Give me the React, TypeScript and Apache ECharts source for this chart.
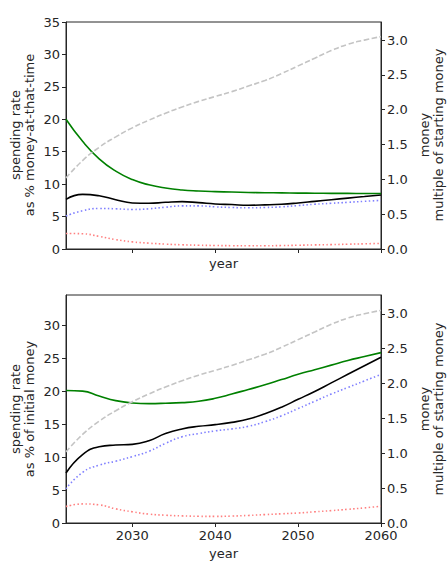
import React, { useEffect, useRef } from 'react';
import * as echarts from 'echarts';

const years = [2022, 2024, 2026, 2028, 2030, 2032, 2034, 2036, 2038, 2040, 2042, 2044, 2046, 2048, 2050, 2052, 2054, 2056, 2058, 2060];

// top panel: spending rate as % of money-at-that-time
const topGreen = [20.0, 16.6, 13.9, 12.0, 10.7, 9.9, 9.4, 9.1, 8.95, 8.85, 8.78, 8.72, 8.68, 8.65, 8.62, 8.6, 8.58, 8.57, 8.56, 8.55];
const topBlack = [7.66, 8.42, 8.2, 7.6, 7.1, 7.05, 7.2, 7.3, 7.15, 6.95, 6.85, 6.75, 6.8, 6.9, 7.1, 7.35, 7.6, 7.85, 8.1, 8.33];
const topBlue = [5.1, 5.9, 6.25, 6.2, 6.1, 6.2, 6.45, 6.65, 6.65, 6.5, 6.4, 6.35, 6.4, 6.5, 6.7, 6.9, 7.05, 7.2, 7.35, 7.5];
const topRed = [2.4, 2.35, 1.95, 1.45, 1.1, 0.9, 0.75, 0.65, 0.58, 0.54, 0.51, 0.5, 0.5, 0.53, 0.58, 0.63, 0.68, 0.74, 0.8, 0.86];

// bottom panel: spending rate as % of initial money
const botGreen = [20.15, 20.05, 19.3, 18.6, 18.25, 18.15, 18.2, 18.3, 18.5, 18.95, 19.6, 20.3, 21.0, 21.8, 22.6, 23.3, 24.0, 24.7, 25.3, 25.9];
const botBlack = [7.6, 10.4, 11.6, 11.85, 11.95, 12.5, 13.6, 14.3, 14.7, 14.95, 15.3, 15.8, 16.6, 17.6, 18.8, 20.0, 21.3, 22.6, 23.9, 25.2];
const botBlue = [5.2, 7.7, 8.8, 9.4, 10.1, 10.9, 12.1, 13.1, 13.6, 14.0, 14.3, 14.7, 15.4, 16.3, 17.4, 18.5, 19.6, 20.6, 21.6, 22.6];
const botRed = [2.5, 2.9, 2.75, 2.15, 1.7, 1.35, 1.18, 1.08, 1.02, 1.0, 1.05, 1.15, 1.28, 1.4, 1.52, 1.7, 1.88, 2.08, 2.3, 2.55];

// money, multiple of starting money (right axes)
const money = [1.02, 1.27, 1.46, 1.61, 1.74, 1.85, 1.95, 2.04, 2.12, 2.19, 2.26, 2.34, 2.42, 2.52, 2.63, 2.74, 2.85, 2.94, 3.0, 3.05];

const xTicks = [2030, 2040, 2050, 2060];
const leftTicksTop = [0, 5, 10, 15, 20, 25, 30, 35];
const leftTicksBottom = [0, 5, 10, 15, 20, 25, 30];
const rightTicks = [0, 0.5, 1.0, 1.5, 2.0, 2.5, 3.0];

const FONT = 'DejaVu Sans';
const TXT = '#262626';
const SPINE = '#262626';

const pairs = (vals: number[]) => years.map((y, i) => [y, vals[i]]);

export default function App() {
  const ref = useRef<HTMLDivElement>(null);
  useEffect(() => {
    document.body.style.margin = '0';
    const chart = echarts.init(ref.current!, null, { renderer: 'svg' });

    const xAxisBase = (gridIndex: number, showLabels: boolean) => ({
      type: 'value',
      gridIndex,
      min: 2022,
      max: 2060,
      splitLine: { show: false },
      axisLine: { show: true, lineStyle: { color: SPINE, width: 1 } },
      axisTick: { show: true, inside: false, length: 4, customValues: xTicks, lineStyle: { color: SPINE } },
      axisLabel: {
        show: showLabels,
        customValues: xTicks,
        color: TXT,
        fontSize: 13,
        fontFamily: FONT,
        margin: 6,
        formatter: (v: number) => String(v),
      },
    });

    const yAxisBase = (gridIndex: number, position: string, max: number, ticks: number[], dec: number) => ({
      type: 'value',
      gridIndex,
      position,
      min: 0,
      max,
      splitLine: { show: false },
      axisLine: { show: true, lineStyle: { color: SPINE, width: 1 } },
      axisTick: { show: true, inside: false, length: 4, customValues: ticks, lineStyle: { color: SPINE } },
      axisLabel: {
        customValues: ticks,
        color: TXT,
        fontSize: 13,
        fontFamily: FONT,
        margin: 6,
        formatter: (v: number) => v.toFixed(dec),
      },
    });

    const line = (data: number[], xi: number, yi: number, color: string, type: any, width: number, z = 2) => ({
      type: 'line',
      xAxisIndex: xi,
      yAxisIndex: yi,
      data: pairs(data),
      showSymbol: false,
      symbol: 'none',
      smooth: 0.5,
      z,
      lineStyle: { color, type, width, cap: 'butt' },
    });

    const dotted = [1.5, 2.4];
    const dashed = [5.5, 2.4];

    const label = (x: number, y: number, text: string) => ({
      type: 'text',
      x,
      y,
      rotation: Math.PI / 2,
      style: {
        text,
        align: 'center',
        verticalAlign: 'middle',
        textAlign: 'center',
        textVerticalAlign: 'middle',
        fontSize: 13,
        fontFamily: FONT,
        lineHeight: 14,
        fill: TXT,
      },
    });

    const hlabel = (x: number, y: number, text: string) => ({
      type: 'text',
      x,
      y,
      style: {
        text,
        align: 'center',
        verticalAlign: 'middle',
        textAlign: 'center',
        textVerticalAlign: 'middle',
        fontSize: 13,
        fontFamily: FONT,
        fill: TXT,
      },
    });

    chart.setOption({
      animation: false,
      backgroundColor: '#ffffff',
      grid: [
        { left: 66, top: 22, width: 315, height: 227, show: true, borderColor: SPINE, borderWidth: 1, backgroundColor: 'transparent' },
        { left: 66, top: 295, width: 315, height: 228, show: true, borderColor: SPINE, borderWidth: 1, backgroundColor: 'transparent' },
      ],
      xAxis: [xAxisBase(0, false), xAxisBase(1, true)],
      yAxis: [
        yAxisBase(0, 'left', 35, leftTicksTop, 0),
        yAxisBase(0, 'right', 3.26, rightTicks, 1),
        yAxisBase(1, 'left', 34.66, leftTicksBottom, 0),
        yAxisBase(1, 'right', 3.27, rightTicks, 1),
      ],
      series: [
        line(topRed, 0, 0, '#ff8080', dotted, 1.6),
        line(topBlue, 0, 0, '#8080ff', dotted, 1.6),
        line(topBlack, 0, 0, '#000000', 'solid', 1.6),
        line(topGreen, 0, 0, '#008000', 'solid', 1.6),
        line(money, 0, 1, '#c4c4c4', dashed, 1.6, 3),
        line(botRed, 1, 2, '#ff8080', dotted, 1.6),
        line(botBlue, 1, 2, '#8080ff', dotted, 1.6),
        line(botBlack, 1, 2, '#000000', 'solid', 1.6),
        line(botGreen, 1, 2, '#008000', 'solid', 1.6),
        line(money, 1, 3, '#c4c4c4', dashed, 1.6, 3),
      ],
      graphic: [
        label(22.5, 135, 'spending rate\nas % money-at-that-time'),
        label(431, 135, 'money\nmultiple of starting money'),
        label(22.5, 409, 'spending rate\nas % of initial money'),
        label(431, 409, 'money\nmultiple of starting money'),
        hlabel(223.5, 263, 'year'),
        hlabel(223.5, 553, 'year'),
      ],
    });
    return () => chart.dispose();
  }, []);
  return <div ref={ref} style={{ width: 448, height: 571 }} />;
}
